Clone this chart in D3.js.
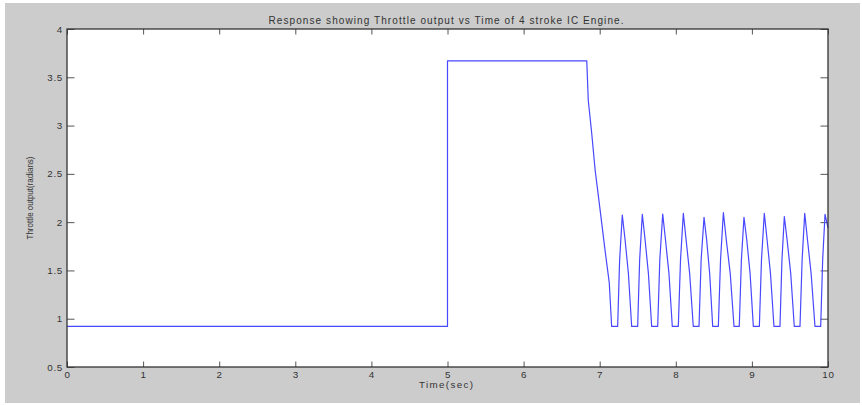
<!DOCTYPE html>
<html>
<head>
<meta charset="utf-8">
<script src="https://cdn.jsdelivr.net/npm/d3@7"></script>
<style>
  body { margin: 0; background: #fff; }
  svg text { font-family: "Liberation Sans", Arial, sans-serif; fill: #333; }
</style>
</head>
<body>
<svg id="chart" width="862" height="405"></svg>
<script>
// throttle response (time in sec, throttle in radians)
var times = [0, 5.0, 5.0, 6.83, 6.85, 6.895, 6.94, 7.0, 7.07, 7.126,
    7.157, 7.236, 7.262, 7.297, 7.333, 7.377,
    7.420, 7.499, 7.525, 7.560, 7.596, 7.640,
    7.683, 7.762, 7.790, 7.828, 7.864, 7.910,
    7.954, 8.033, 8.062, 8.099, 8.135, 8.182,
    8.230, 8.305, 8.333, 8.371, 8.405, 8.445,
    8.485, 8.559, 8.588, 8.625, 8.663, 8.715,
    8.765, 8.834, 8.862, 8.896, 8.932, 8.976,
    9.019, 9.098, 9.126, 9.163, 9.199, 9.244,
    9.290, 9.369, 9.395, 9.426, 9.462, 9.510,
    9.557, 9.632, 9.660, 9.694, 9.730, 9.778,
    9.829, 9.904, 9.930, 9.961, 10.0];
var throttle = [0.92, 0.92, 3.67, 3.67, 3.26, 2.92, 2.54, 2.16, 1.71, 1.37,
    0.92, 0.92, 1.61, 2.074, 1.82, 1.47,
    0.92, 0.92, 1.61, 2.081, 1.82, 1.47,
    0.92, 0.92, 1.61, 2.084, 1.82, 1.47,
    0.92, 0.92, 1.61, 2.091, 1.82, 1.47,
    0.92, 0.92, 1.61, 2.050, 1.82, 1.47,
    0.92, 0.92, 1.61, 2.098, 1.82, 1.47,
    0.92, 0.92, 1.61, 2.050, 1.82, 1.47,
    0.92, 0.92, 1.61, 2.091, 1.82, 1.47,
    0.92, 0.92, 1.61, 2.057, 1.82, 1.47,
    0.92, 0.92, 1.61, 2.091, 1.82, 1.47,
    0.92, 0.92, 1.61, 2.081, 1.94];
var xTicks = [0, 1, 2, 3, 4, 5, 6, 7, 8, 9, 10];
var yTicks = [0.5, 1, 1.5, 2, 2.5, 3, 3.5, 4];

var svg = d3.select("#chart");

// grey figure window
svg.append("rect")
    .attr("x", 5).attr("y", 3)
    .attr("width", 855).attr("height", 400)
    .attr("fill", "#cccccc");

var plotL = 67, plotR = 828, plotT = 29, plotB = 367;

var x = d3.scaleLinear().domain([0, 10]).range([plotL, plotR]);
var y = d3.scaleLinear().domain([0.5, 4]).range([plotB, plotT]);

svg.append("rect")
    .attr("x", plotL).attr("y", plotT)
    .attr("width", plotR - plotL).attr("height", plotB - plotT)
    .attr("fill", "#fff");

// ticks point inwards on all four sides, like matlab
var bottomAxis = d3.axisBottom(x).tickValues(xTicks).tickSize(-5.5).tickPadding(4).tickFormat(d3.format("d"));
var topAxis = d3.axisTop(x).tickValues(xTicks).tickSize(-5.5).tickFormat("");
var leftAxis = d3.axisLeft(y).tickValues(yTicks).tickSize(-7.5).tickPadding(4).tickFormat(d3.format(""));
var rightAxis = d3.axisRight(y).tickValues(yTicks).tickSize(-7.5).tickFormat("");

function styleAxis(g) {
    g.select(".domain").remove();
    g.selectAll(".tick line").attr("stroke", "#555").attr("stroke-width", 1);
    g.selectAll(".tick text")
        .attr("font-size", 9.8)
        .attr("letter-spacing", 0.7)
        .attr("fill", "#333");
}

svg.append("g").attr("transform", "translate(0," + plotB + ")").call(bottomAxis).call(styleAxis);
svg.append("g").attr("transform", "translate(0," + plotT + ")").call(topAxis).call(styleAxis);
svg.append("g").attr("transform", "translate(" + plotL + ",0)").call(leftAxis).call(styleAxis);
svg.append("g").attr("transform", "translate(" + plotR + ",0)").call(rightAxis).call(styleAxis);

var points = times.map(function(t, i) { return [t, throttle[i]]; });

var line = d3.line()
    .x(function(d) { return x(d[0]); })
    .y(function(d) { return y(d[1]); });

svg.append("path")
    .datum(points)
    .attr("d", line)
    .attr("fill", "none")
    .attr("stroke", "#4848ff")
    .attr("stroke-width", 1.2)
    .attr("stroke-linejoin", "round");

// plot box
svg.append("rect")
    .attr("x", plotL).attr("y", plotT)
    .attr("width", plotR - plotL).attr("height", plotB - plotT)
    .attr("fill", "none")
    .attr("stroke", "#333")
    .attr("stroke-width", 1.3);

svg.append("text")
    .attr("x", 446).attr("y", 24)
    .attr("text-anchor", "middle")
    .attr("font-size", 10)
    .attr("textLength", 355)
    .attr("lengthAdjust", "spacing")
    .text("Response showing Throttle output vs Time of 4 stroke IC Engine.");

svg.append("text")
    .attr("x", 446).attr("y", 388)
    .attr("text-anchor", "middle")
    .attr("font-size", 9.8)
    .attr("textLength", 54)
    .attr("lengthAdjust", "spacing")
    .text("Time(sec)");

svg.append("text")
    .attr("transform", "translate(33,198) rotate(-90)")
    .attr("text-anchor", "middle")
    .attr("font-size", 8.5)
    .attr("textLength", 83)
    .attr("lengthAdjust", "spacingAndGlyphs")
    .text("Throttle output(radians)");
</script>
</body>
</html>
